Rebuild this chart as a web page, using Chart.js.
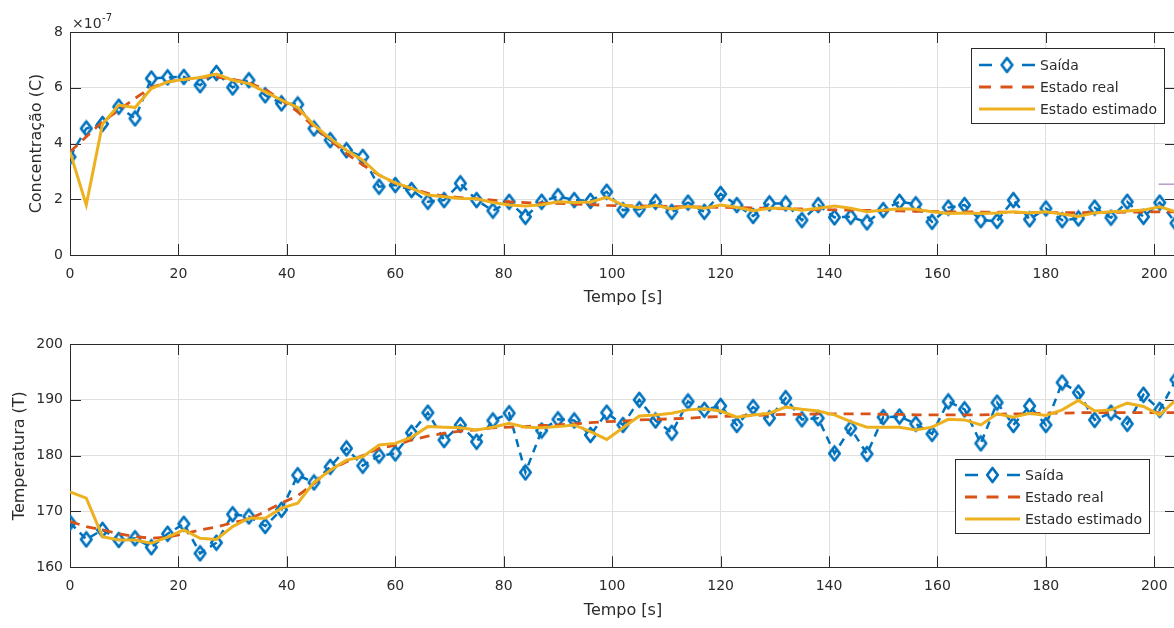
<!DOCTYPE html>
<html>
<head>
<meta charset="utf-8">
<script src="https://cdn.jsdelivr.net/npm/chart.js@4.4.1/dist/chart.umd.min.js"></script>
<style>
    html, body { margin: 0; padding: 0; background: #fff; overflow: hidden; }
    #wrap { position: relative; width: 1174px; height: 628px; overflow: hidden; }
    canvas { position: absolute; left: 0; }
    #topChart { top: 0; }
    #bottomChart { top: 314px; }
</style>
</head>
<body>
<div id="wrap">
    <canvas id="topChart" width="1176" height="314"></canvas>
    <canvas id="bottomChart" width="1176" height="314"></canvas>
</div>
<script>
// tempo [s]
const tempo = [0, 3, 6, 9, 12, 15, 18, 21, 24, 27, 30, 33, 36, 39, 42, 45, 48, 51, 54, 57,
    60, 63, 66, 69, 72, 75, 78, 81, 84, 87, 90, 93, 96, 99, 102, 105, 108, 111, 114, 117,
    120, 123, 126, 129, 132, 135, 138, 141, 144, 147, 150, 153, 156, 159, 162, 165, 168, 171, 174, 177,
    180, 183, 186, 189, 192, 195, 198, 201, 204];

// concentração (x 1e-7)
const saidaC = [3.52, 4.54, 4.70, 5.32, 4.90, 6.33, 6.37, 6.39, 6.09, 6.53, 6.01, 6.27, 5.73, 5.44, 5.40, 4.54, 4.12, 3.76, 3.52, 2.45,
    2.51, 2.33, 1.91, 1.97, 2.57, 1.97, 1.59, 1.91, 1.37, 1.91, 2.11, 1.97, 1.94, 2.27, 1.61, 1.64, 1.91, 1.55, 1.88, 1.55,
    2.19, 1.79, 1.40, 1.85, 1.85, 1.25, 1.79, 1.35, 1.37, 1.17, 1.61, 1.91, 1.82, 1.19, 1.70, 1.79, 1.25, 1.22, 1.97, 1.28,
    1.67, 1.25, 1.31, 1.70, 1.34, 1.91, 1.37, 1.88, 1.14];
const realC = [3.70, 4.24, 4.78, 5.20, 5.62, 6.01, 6.21, 6.30, 6.37, 6.39, 6.30, 6.18, 5.94, 5.56, 5.14, 4.60, 4.12, 3.64, 3.23, 2.87,
    2.57, 2.39, 2.21, 2.11, 2.06, 2.01, 1.97, 1.91, 1.88, 1.86, 1.85, 1.83, 1.81, 1.78, 1.77, 1.76, 1.75, 1.74, 1.73, 1.72,
    1.71, 1.70, 1.69, 1.67, 1.66, 1.65, 1.63, 1.62, 1.61, 1.60, 1.59, 1.58, 1.57, 1.56, 1.55, 1.55, 1.54, 1.54, 1.53, 1.53,
    1.52, 1.52, 1.52, 1.53, 1.53, 1.54, 1.54, 1.55, 1.55];
const estC = [3.70, 1.80, 4.70, 5.38, 5.29, 5.97, 6.21, 6.30, 6.37, 6.49, 6.27, 6.15, 5.85, 5.56, 5.29, 4.66, 4.18, 3.76, 3.40, 2.87,
    2.59, 2.39, 2.15, 2.09, 2.03, 2.02, 1.88, 1.79, 1.76, 1.80, 1.91, 1.88, 1.90, 2.07, 1.79, 1.70, 1.78, 1.65, 1.74, 1.68,
    1.79, 1.71, 1.59, 1.68, 1.68, 1.61, 1.68, 1.76, 1.68, 1.55, 1.61, 1.66, 1.64, 1.55, 1.49, 1.51, 1.49, 1.51, 1.55, 1.51,
    1.55, 1.47, 1.38, 1.51, 1.55, 1.58, 1.61, 1.73, 1.55];
// traço lilás cortado na borda direita
const extraT = [200.8, 204];
const extraC = [2.54, 2.54];

// temperatura
const saidaT = [168.0, 165.0, 166.7, 164.9, 165.2, 163.6, 166.0, 167.8, 162.5, 164.4, 169.5, 169.1, 167.4, 170.3, 176.5, 175.2, 178.0, 181.3, 178.2, 180.0,
    180.4, 184.1, 187.7, 182.8, 185.5, 182.5, 186.3, 187.6, 177.0, 184.5, 186.5, 186.3, 183.7, 187.7, 185.5, 190.0, 186.3, 184.1, 189.7, 188.2,
    188.9, 185.5, 188.7, 186.7, 190.3, 186.5, 186.7, 180.4, 184.9, 180.3, 186.9, 187.0, 185.7, 183.9, 189.7, 188.3, 182.2, 189.5, 185.5, 188.9,
    185.5, 193.1, 191.3, 186.4, 187.7, 185.7, 190.9, 188.2, 193.6];
const realT = [168.2, 167.3, 166.7, 166.0, 165.5, 165.2, 165.4, 166.0, 166.7, 167.2, 168.0, 168.6, 170.0, 171.5, 172.8, 175.0, 177.4, 178.9, 180.0, 181.3,
    181.9, 182.8, 183.5, 184.0, 184.4, 184.6, 185.0, 185.1, 185.2, 185.4, 185.5, 185.7, 185.9, 186.1, 186.2, 186.4, 186.5, 186.6, 186.7, 186.9,
    187.0, 187.1, 187.2, 187.3, 187.4, 187.4, 187.5, 187.5, 187.5, 187.5, 187.4, 187.4, 187.3, 187.3, 187.3, 187.3, 187.3, 187.4, 187.5, 187.5,
    187.6, 187.6, 187.7, 187.7, 187.7, 187.7, 187.7, 187.7, 187.7];
const estT = [173.5, 172.4, 165.5, 164.9, 164.9, 164.3, 165.4, 166.7, 165.2, 165.0, 167.3, 168.8, 168.8, 170.6, 171.5, 175.2, 177.4, 179.2, 179.8, 181.9,
    182.2, 183.3, 185.2, 185.1, 185.0, 184.6, 185.1, 185.8, 185.1, 185.0, 185.2, 185.5, 184.3, 182.9, 185.0, 187.1, 187.3, 187.6, 188.2, 188.4,
    188.0, 186.9, 187.3, 187.6, 188.7, 188.3, 188.0, 187.3, 186.1, 185.1, 185.1, 185.1, 184.6, 185.1, 186.5, 186.4, 185.5, 187.5, 186.9, 187.6,
    187.2, 188.2, 189.9, 188.0, 188.2, 189.4, 188.8, 187.3, 190.0];

const xTicks = [0, 20, 40, 60, 80, 100, 120, 140, 160, 180, 200];
const yTicksC = [0, 2, 4, 6, 8];
const yTicksT = [160, 170, 180, 190, 200];

const BLUE = '#0072BD';
const RED = '#D95319';
const YELLOW = '#EDB120';
const INK = '#2b2b2b';
const GRID = '#dfdfdf';

Chart.defaults.font.family = "'DejaVu Sans', sans-serif";
Chart.defaults.color = INK;

// marcador losango (estilo 'd' do MATLAB)
function makeDiamond(color) {
    const c = document.createElement('canvas');
    c.width = 15;
    c.height = 18;
    const g = c.getContext('2d');
    g.strokeStyle = color;
    g.lineWidth = 2.7;
    g.lineJoin = 'round';
    g.beginPath();
    g.moveTo(7.5, 2);
    g.lineTo(12.8, 9);
    g.lineTo(7.5, 16);
    g.lineTo(2.2, 9);
    g.closePath();
    g.stroke();
    return c;
}
const diamond = makeDiamond(BLUE);

const pts = (xs, ys) => xs.map((x, i) => ({ x: x, y: ys[i] }));

function seriesSet(saida, real, est) {
    return [
        {
            label: 'Saída', data: pts(tempo, saida), order: 3,
            borderColor: BLUE, borderWidth: 2.5, borderDash: [8, 6],
            pointStyle: diamond, pointRadius: 7, legendMarker: true
        },
        {
            label: 'Estado real', data: pts(tempo, real), order: 2,
            borderColor: RED, borderWidth: 2.8, borderDash: [10, 7], pointRadius: 0
        },
        {
            label: 'Estado estimado', data: pts(tempo, est), order: 1,
            borderColor: YELLOW, borderWidth: 3, pointRadius: 0
        }
    ];
}

// caixa e marcas internas dos eixos
const boxPlugin = {
    id: 'box',
    beforeDatasetsDraw(chart) {
        const { ctx, chartArea: a, scales } = chart;
        const len = 11;
        ctx.save();
        ctx.strokeStyle = INK;
        ctx.lineWidth = 1;
        ctx.beginPath();
        scales.x.ticks.forEach(t => {
            const px = Math.round(scales.x.getPixelForValue(t.value)) + 0.5;
            ctx.moveTo(px, a.bottom); ctx.lineTo(px, a.bottom - len);
            ctx.moveTo(px, a.top); ctx.lineTo(px, a.top + len);
        });
        scales.y.ticks.forEach(t => {
            const py = Math.round(scales.y.getPixelForValue(t.value)) + 0.5;
            ctx.moveTo(a.left, py); ctx.lineTo(a.left + len, py);
            ctx.moveTo(a.right, py); ctx.lineTo(a.right - len, py);
        });
        ctx.stroke();
        ctx.strokeRect(Math.round(a.left) + 0.5, Math.round(a.top) + 0.5,
            Math.round(a.right - a.left), Math.round(a.bottom - a.top));
        ctx.restore();
    }
};

// legenda no estilo MATLAB
const legendPlugin = {
    id: 'matlabLegend',
    afterDraw(chart, args, opts) {
        if (!opts.box) return;
        const { ctx } = chart;
        const b = opts.box;
        ctx.save();
        ctx.fillStyle = '#fff';
        ctx.fillRect(b.x, b.y, b.w, b.h);
        ctx.strokeStyle = INK;
        ctx.lineWidth = 1;
        ctx.strokeRect(b.x + 0.5, b.y + 0.5, b.w, b.h);
        const items = chart.data.datasets.filter(d => !d.noLegend);
        items.forEach((d, i) => {
            const y = b.y + opts.firstRow + i * opts.rowGap;
            const x0 = b.x + opts.lineStart;
            const x1 = x0 + opts.lineLen;
            ctx.strokeStyle = d.borderColor;
            ctx.lineWidth = d.borderWidth;
            ctx.beginPath();
            if (d.legendMarker) {
                ctx.setLineDash([]);
                ctx.moveTo(x0, y); ctx.lineTo(x0 + 13, y);
                ctx.moveTo(x1 - 13, y); ctx.lineTo(x1, y);
                ctx.stroke();
                ctx.drawImage(d.pointStyle, (x0 + x1) / 2 - d.pointStyle.width / 2, y - d.pointStyle.height / 2);
            } else {
                ctx.setLineDash(d.borderDash ? [12, 9.5] : []);
                ctx.moveTo(x0, y); ctx.lineTo(x1, y);
                ctx.stroke();
            }
            ctx.setLineDash([]);
            ctx.fillStyle = INK;
            ctx.font = "14px 'DejaVu Sans', sans-serif";
            ctx.textBaseline = 'middle';
            ctx.textAlign = 'left';
            ctx.fillText(d.label, b.x + opts.textStart, y + 1);
        });
        ctx.restore();
    }
};

// expoente do eixo y
const exponentPlugin = {
    id: 'exponent',
    afterDraw(chart, args, opts) {
        if (!opts.text) return;
        const { ctx, chartArea: a } = chart;
        ctx.save();
        ctx.fillStyle = INK;
        ctx.textBaseline = 'alphabetic';
        ctx.textAlign = 'left';
        ctx.font = "14px 'DejaVu Sans', sans-serif";
        const x = a.left + 2;
        const y = a.top - 4;
        ctx.fillText(opts.text, x, y);
        const w = ctx.measureText(opts.text).width;
        ctx.font = "10px 'DejaVu Sans', sans-serif";
        ctx.fillText(opts.sup, x + w + 0.5, y - 7);
        ctx.restore();
    }
};

function makeOptions(cfg) {
    return {
        responsive: false,
        animation: false,
        events: [],
        layout: {
            autoPadding: false,
            padding: { left: cfg.padLeft, top: cfg.padTop, right: 0, bottom: cfg.padBottom }
        },
        plugins: {
            legend: { display: false },
            tooltip: { enabled: false },
            matlabLegend: cfg.legend,
            exponent: cfg.exponent || {}
        },
        scales: {
            x: {
                type: 'linear', min: 0, max: 204,
                afterBuildTicks: s => { s.ticks = xTicks.map(v => ({ value: v })); },
                afterFit: s => { s.height = cfg.xHeight; s.paddingLeft = 0; s.paddingRight = 0; },
                ticks: { padding: 11, font: { size: 14 }, color: INK, maxRotation: 0, autoSkip: false },
                grid: { color: GRID, lineWidth: 1, drawTicks: false },
                border: { display: false },
                title: { display: true, text: 'Tempo [s]', font: { size: 16 }, color: INK, padding: { top: 0, bottom: 0 } }
            },
            y: {
                min: cfg.yTicks[0], max: cfg.yTicks[cfg.yTicks.length - 1],
                afterBuildTicks: s => { s.ticks = cfg.yTicks.map(v => ({ value: v })); },
                afterFit: s => { s.width = cfg.yWidth; s.paddingTop = 0; s.paddingBottom = 0; },
                ticks: { padding: 7, font: { size: 14 }, color: INK },
                grid: { color: GRID, lineWidth: 1, drawTicks: false },
                border: { display: false },
                title: { display: true, text: cfg.yTitle, font: { size: 16 }, color: INK, padding: { top: 0, bottom: 0 } }
            }
        }
    };
}

const topSets = seriesSet(saidaC, realC, estC);
topSets.push({
    label: 'extra', data: pts(extraT, extraC), order: 0, noLegend: true,
    borderColor: '#b59bc6', borderWidth: 1.5, pointRadius: 0
});

new Chart(document.getElementById('topChart'), {
    type: 'line',
    data: { datasets: topSets },
    options: makeOptions({
        padLeft: 27.4, padTop: 32, padBottom: 6.4, xHeight: 52.6, yWidth: 42.6,
        yTicks: yTicksC, yTitle: 'Concentração (C)',
        exponent: { text: '×10', sup: '-7' },
        legend: { box: { x: 971, y: 48, w: 193, h: 75 }, firstRow: 17, rowGap: 22, lineStart: 8, lineLen: 56, textStart: 69 }
    }),
    plugins: [boxPlugin, legendPlugin, exponentPlugin]
});

new Chart(document.getElementById('bottomChart'), {
    type: 'line',
    data: { datasets: seriesSet(saidaT, realT, estT) },
    options: makeOptions({
        padLeft: 10.4, padTop: 30, padBottom: 7.4, xHeight: 53.3, yWidth: 59.6,
        yTicks: yTicksT, yTitle: 'Temperatura (T)',
        legend: { box: { x: 955, y: 145, w: 194, h: 74 }, firstRow: 16, rowGap: 22, lineStart: 10, lineLen: 55, textStart: 70 }
    }),
    plugins: [boxPlugin, legendPlugin, exponentPlugin]
});
</script>
</body>
</html>
